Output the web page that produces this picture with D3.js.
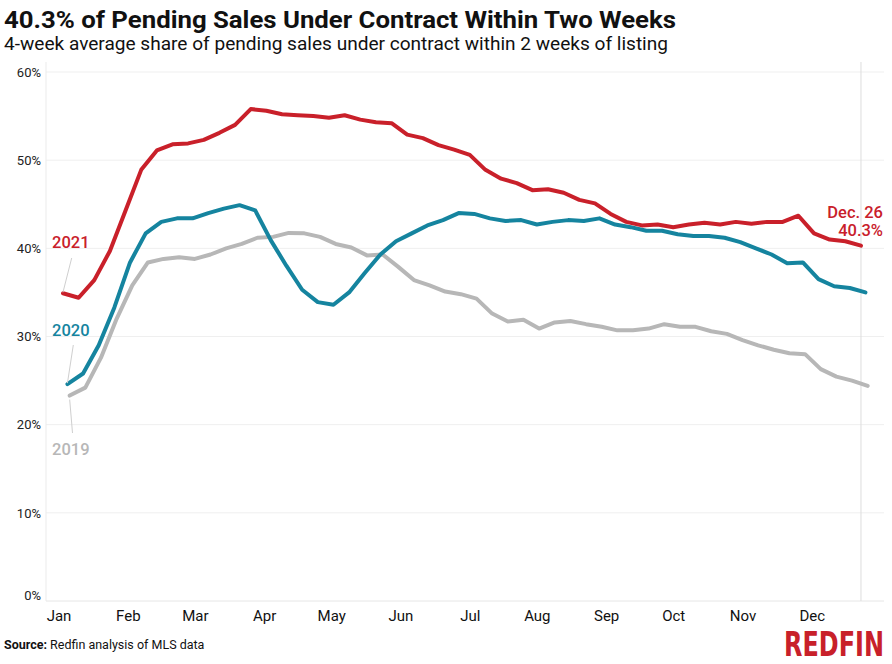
<!DOCTYPE html>
<html>
<head>
<meta charset="utf-8">
<script src="https://cdn.jsdelivr.net/npm/d3@7"></script>
<style>
  html, body { margin: 0; padding: 0; background: #fff; }
  svg { display: block; font-family: Roboto, "Liberation Sans", sans-serif; }
</style>
</head>
<body>
<svg id="chart" width="892" height="664"></svg>
<script>
// ---------------- data ----------------
const monthLabels = ["Jan","Feb","Mar","Apr","May","Jun","Jul","Aug","Sep","Oct","Nov","Dec"];
const yTicks = [0, 10, 20, 30, 40, 50, 60];

const seriesNames = ["2019", "2020", "2021"];
const seriesStart = ["2019-01-06", "2020-01-05", "2021-01-03"]; // first week-ending date

const share2019 = [23.3,24.2,27.6,32.0,35.8,38.4,38.8,39.0,38.8,39.3,40.0,40.5,41.2,41.3,41.75,41.7,41.3,40.5,40.1,39.2,39.3,37.9,36.4,35.8,35.1,34.8,34.3,32.6,31.7,31.9,30.9,31.6,31.75,31.4,31.1,30.7,30.7,30.9,31.4,31.1,31.1,30.6,30.3,29.6,29.0,28.5,28.1,28.0,26.3,25.45,25.0,24.4];
const share2020 = [24.6,25.8,29.0,33.3,38.4,41.7,43.0,43.4,43.4,44.0,44.5,44.9,44.3,40.9,38.0,35.3,33.9,33.6,35.0,37.2,39.3,40.8,41.7,42.6,43.2,44.0,43.9,43.4,43.1,43.2,42.7,43.0,43.2,43.1,43.4,42.7,42.4,42.0,42.0,41.6,41.4,41.4,41.2,40.7,40.0,39.3,38.3,38.4,36.5,35.7,35.5,35.0];
const share2021 = [34.9,34.4,36.4,39.7,44.3,48.9,51.1,51.8,51.9,52.3,53.1,54.0,55.8,55.6,55.2,55.1,55.0,54.8,55.1,54.6,54.3,54.2,52.9,52.5,51.7,51.2,50.6,48.9,47.9,47.4,46.6,46.7,46.3,45.5,45.1,43.9,43.0,42.6,42.7,42.4,42.7,42.9,42.7,43.0,42.8,43.0,43.0,43.7,41.7,41.0,40.8,40.3];

const lastLabelLines = ["Dec. 26", "40.3%"];

// ---------------- layout ----------------
const colors = { "2019": "#b7b7b7", "2020": "#15849f", "2021": "#c9202a" };
const svg = d3.select("#chart");
const plot = { left: 46, right: 884, top: 62, bottom: 601 };

const parse = d3.timeParse("%Y-%m-%d");
const jan1 = new Date(2021, 0, 1);
// map any date onto the 2021 calendar by day of year
const toCal = d => d3.timeDay.offset(jan1, d3.timeDay.count(d3.timeYear(d), d));

const x = d3.scaleTime()
  .domain([jan1, new Date(2021, 11, 31)])
  .range([58.5, 58.5 + 364 * 2.2353]);
const y = d3.scaleLinear().domain([0, 60]).range([plot.bottom, 72]);

const valuesBy = { "2019": share2019, "2020": share2020, "2021": share2021 };
const series = seriesNames.map((name, si) => {
  const start = parse(seriesStart[si]);
  return {
    name,
    points: valuesBy[name].map((v, i) => ({ date: toCal(d3.timeDay.offset(start, 7 * i)), value: v }))
  };
});

// gridlines
svg.append("g")
  .selectAll("line")
  .data(yTicks.filter(t => t > 0))
  .join("line")
  .attr("x1", plot.left).attr("x2", plot.right)
  .attr("y1", d => y(d)).attr("y2", d => y(d))
  .attr("stroke", "#efefef").attr("stroke-width", 1);

// frame lines
svg.append("line").attr("x1", plot.left).attr("x2", plot.left)
  .attr("y1", plot.top).attr("y2", plot.bottom).attr("stroke", "#ebebeb");
svg.append("line").attr("x1", plot.left).attr("x2", plot.right)
  .attr("y1", plot.bottom).attr("y2", plot.bottom).attr("stroke", "#e6e6e6");
const lastDate = series[2].points[series[2].points.length - 1].date;
svg.append("line").attr("x1", x(lastDate)).attr("x2", x(lastDate))
  .attr("y1", plot.top).attr("y2", plot.bottom).attr("stroke", "#dddddd");

// y axis
const yAxis = svg.append("g")
  .attr("transform", `translate(${plot.left - 5},0)`)
  .call(d3.axisLeft(y).tickValues(yTicks).tickFormat(d => d + "%").tickSize(0).tickPadding(0));
yAxis.select(".domain").remove();
yAxis.selectAll("text")
  .attr("fill", "#222").attr("font-size", 13)
  .attr("font-family", "Roboto, sans-serif")
  .attr("dy", d => d === 0 ? "-0.1em" : "0.32em");

// x axis
const monthTicks = d3.range(12).map(i => d3.timeDay.offset(jan1, Math.round(i * 30.6)));
const xAxis = svg.append("g")
  .attr("transform", `translate(0,${plot.bottom})`)
  .call(d3.axisBottom(x).tickValues(monthTicks).tickFormat((d, i) => monthLabels[i]).tickSize(0).tickPadding(9));
xAxis.select(".domain").remove();
xAxis.selectAll("text")
  .attr("fill", "#111").attr("font-size", 15)
  .attr("font-family", "Roboto, sans-serif")
  .attr("dy", "0.71em");

// lines
const line = d3.line().x(d => x(d.date)).y(d => y(d.value));
svg.append("g")
  .selectAll("path")
  .data(series)
  .join("path")
  .attr("d", d => line(d.points))
  .attr("fill", "none")
  .attr("stroke", d => colors[d.name])
  .attr("stroke-width", 4)
  .attr("stroke-linejoin", "round")
  .attr("stroke-linecap", "round");

// series labels with leader lines
const labelSpec = {
  "2021": { lx: 52, ly: 248, l1: [71.7, 258] },
  "2020": { lx: 52, ly: 336, l1: [73.3, 345] },
  "2019": { lx: 52, ly: 455, l1: [72.5, 433] }
};
series.forEach(s => {
  const p0 = s.points[0];
  const spec = labelSpec[s.name];
  svg.append("line")
    .attr("x1", spec.l1[0]).attr("y1", spec.l1[1])
    .attr("x2", x(p0.date)).attr("y2", y(p0.value) + (s.name === "2019" ? 4 : -1))
    .attr("stroke", "#cfcfcf").attr("stroke-width", 1);
  svg.append("text")
    .attr("x", spec.lx).attr("y", spec.ly)
    .attr("fill", colors[s.name])
    .attr("font-size", 16.5).attr("font-weight", 500)
    .attr("font-family", "Roboto, sans-serif")
    .text(s.name);
});

// end label
svg.append("text")
  .attr("x", 883).attr("y", 218)
  .attr("text-anchor", "end")
  .attr("fill", colors["2021"]).attr("font-size", 16.5).attr("font-weight", 500)
  .attr("font-family", "Roboto, sans-serif")
  .selectAll("tspan").data(lastLabelLines).join("tspan")
  .attr("x", 883).attr("dy", (d, i) => i === 0 ? 0 : 18)
  .text(d => d);

// title & subtitle
svg.append("text")
  .attr("x", 4).attr("y", 28)
  .attr("font-size", 24).attr("font-weight", 700).attr("fill", "#111")
  .attr("font-family", "Roboto, sans-serif")
  .attr("textLength", 672).attr("lengthAdjust", "spacingAndGlyphs")
  .text("40.3% of Pending Sales Under Contract Within Two Weeks");
svg.append("text")
  .attr("x", 4).attr("y", 50)
  .attr("font-size", 18).attr("font-weight", 400).attr("fill", "#111")
  .attr("font-family", "Roboto, sans-serif")
  .attr("textLength", 664).attr("lengthAdjust", "spacingAndGlyphs")
  .text("4-week average share of pending sales under contract within 2 weeks of listing");

// source
const src = svg.append("text")
  .attr("x", 4).attr("y", 649)
  .attr("font-size", 12.5).attr("fill", "#111")
  .attr("font-family", "Roboto, sans-serif");
src.append("tspan").attr("font-weight", 700).text("Source:");
src.append("tspan").text(" Redfin analysis of MLS data");

// logo: fit natural width to 100px, then stretch vertically
const logoG = svg.append("g");
const logo = logoG.append("text")
  .attr("x", 0).attr("y", 0)
  .attr("text-anchor", "end")
  .attr("font-size", 30).attr("font-weight", 700).attr("fill", "#c8202a")
  .attr("font-family", "'DejaVu Sans Condensed', 'DejaVu Sans', sans-serif")
  .text("REDFIN");
const w0 = logo.node().getComputedTextLength();
const fs = 30 * 100 / w0;
logo.attr("font-size", fs);
const sy = Math.min(1.6, 24 / (0.73 * fs));
logoG.attr("transform", `translate(884,656) scale(1,${sy})`);
</script>
</body>
</html>
